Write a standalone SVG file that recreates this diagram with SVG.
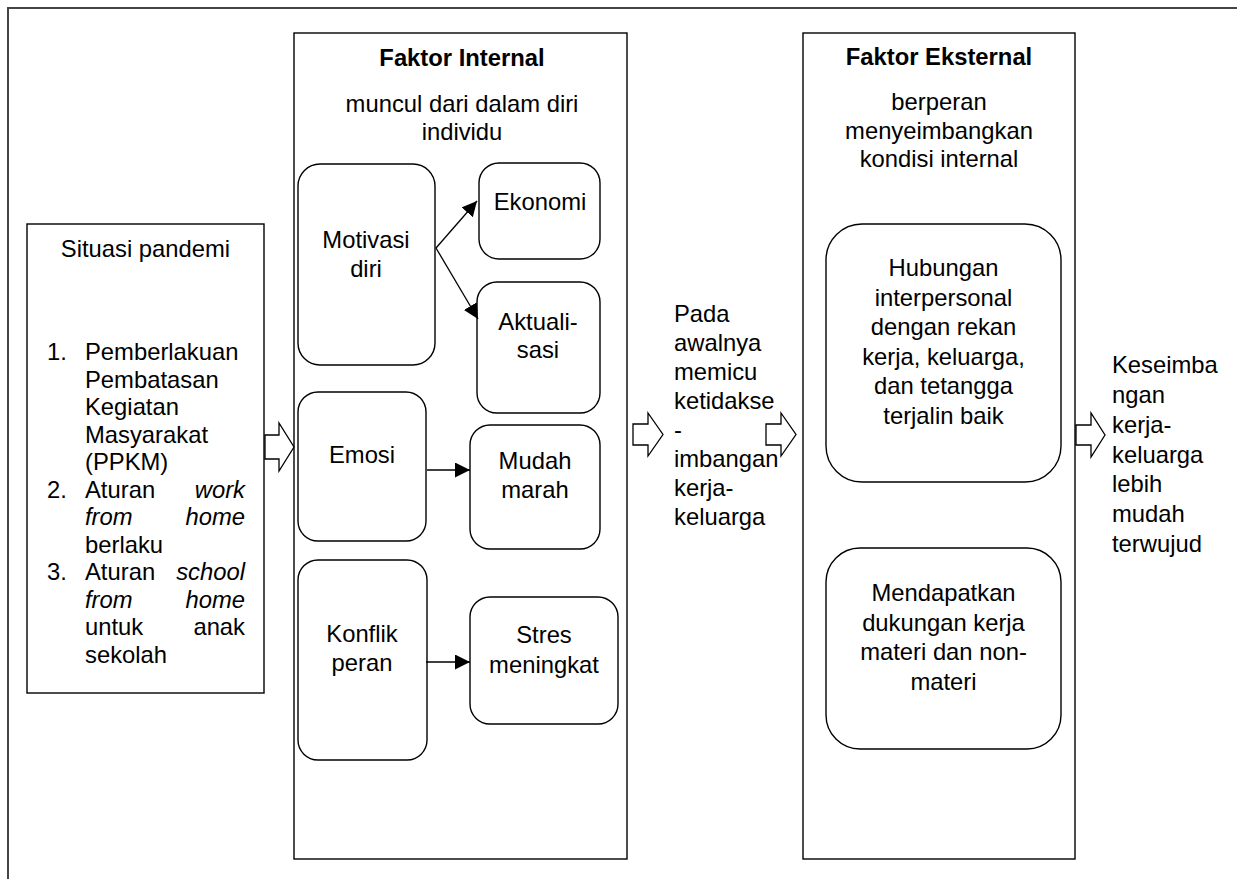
<svg xmlns="http://www.w3.org/2000/svg" width="1237" height="879" viewBox="0 0 1237 879">
<style>
text{font-family:"Liberation Sans",Arial,sans-serif;font-size:23.8px;fill:#000}
.c{text-anchor:middle}
.e{text-anchor:end}
.b{font-weight:bold}
.i{font-style:italic}
.box{fill:#fff;stroke:#000;stroke-width:1.4}
.frame{fill:none;stroke:#444;stroke-width:2}
.conn{stroke:#000;stroke-width:1.3;fill:none}
.blk{fill:#fff;stroke:#000;stroke-width:1.3;stroke-linejoin:miter}
</style>
<defs>
<marker id="ah" markerUnits="userSpaceOnUse" markerWidth="16" markerHeight="16" refX="15" refY="7.5" orient="auto">
<path d="M0,0 L15,7.5 L0,15 z" fill="#000"/>
</marker>
</defs>
<rect width="1237" height="879" fill="#fff"/>
<path class="frame" d="M8,879 L8,8 L1237,8"/>

<g id="situasi">
<rect class="box" x="27" y="224" width="237" height="469"/>
<text class="c" x="145.5" y="257">Situasi pandemi</text>
<text x="47" y="360">1.</text>
<text x="85" y="360">Pemberlakuan</text>
<text x="85" y="387.5">Pembatasan</text>
<text x="85" y="415">Kegiatan</text>
<text x="85" y="442.5">Masyarakat</text>
<text x="85" y="470">(PPKM)</text>
<text x="47" y="497.5">2.</text>
<text x="85" y="497.5">Aturan</text>
<text class="e i" x="245" y="497.5">work</text>
<text class="i" x="85" y="525">from</text>
<text class="e i" x="245" y="525">home</text>
<text x="85" y="552.5">berlaku</text>
<text x="47" y="580">3.</text>
<text x="85" y="580">Aturan</text>
<text class="e i" x="245" y="580">school</text>
<text class="i" x="85" y="607.5">from</text>
<text class="e i" x="245" y="607.5">home</text>
<text x="85" y="635">untuk</text>
<text class="e" x="245" y="635">anak</text>
<text x="85" y="662.5">sekolah</text>
</g>

<g id="internal">
<rect class="box" x="294" y="33" width="333" height="826"/>
<text class="c b" x="462" y="66">Faktor Internal</text>
<text class="c" x="462" y="112">muncul dari dalam diri</text>
<text class="c" x="462" y="140">individu</text>
</g>

<g id="motivasi">
<rect class="box" x="298" y="164" width="137" height="201" rx="22"/>
<text class="c" x="366" y="248">Motivasi</text>
<text class="c" x="366" y="277">diri</text>
</g>
<g id="ekonomi">
<rect class="box" x="479" y="163" width="121" height="96" rx="20"/>
<text class="c" x="540" y="210">Ekonomi</text>
</g>
<g id="aktualisasi">
<rect class="box" x="477" y="282" width="123" height="131" rx="20"/>
<text class="c" x="538" y="330">Aktuali-</text>
<text class="c" x="538" y="358">sasi</text>
</g>
<g id="emosi">
<rect class="box" x="298" y="392" width="128" height="149" rx="20"/>
<text class="c" x="362" y="463">Emosi</text>
</g>
<g id="mudah">
<rect class="box" x="470" y="425" width="130" height="124" rx="20"/>
<text class="c" x="535" y="469">Mudah</text>
<text class="c" x="535" y="498">marah</text>
</g>
<g id="konflik">
<rect class="box" x="298" y="560" width="129" height="200" rx="20"/>
<text class="c" x="362" y="642">Konflik</text>
<text class="c" x="362" y="671">peran</text>
</g>
<g id="stres">
<rect class="box" x="470" y="597" width="148" height="127" rx="20"/>
<text class="c" x="544" y="643">Stres</text>
<text class="c" x="544" y="673">meningkat</text>
</g>

<g id="pada">
<text x="674" y="322">Pada</text>
<text x="674" y="351">awalnya</text>
<text x="674" y="380">memicu</text>
<text x="674" y="409">ketidakse</text>
<text x="674" y="438">-</text>
<text x="674" y="467">imbangan</text>
<text x="674" y="496">kerja-</text>
<text x="674" y="525">keluarga</text>
</g>

<g id="eksternal">
<rect class="box" x="803" y="33" width="272" height="826"/>
<text class="c b" x="939" y="65">Faktor Eksternal</text>
<text class="c" x="939" y="110">berperan</text>
<text class="c" x="939" y="138.5">menyeimbangkan</text>
<text class="c" x="939" y="167">kondisi internal</text>
</g>
<g id="hubungan">
<rect class="box" x="826" y="224" width="235" height="258" rx="36"/>
<text class="c" x="943.5" y="276">Hubungan</text>
<text class="c" x="943.5" y="305.5">interpersonal</text>
<text class="c" x="943.5" y="335">dengan rekan</text>
<text class="c" x="943.5" y="364.5">kerja, keluarga,</text>
<text class="c" x="943.5" y="394">dan tetangga</text>
<text class="c" x="943.5" y="423.5">terjalin baik</text>
</g>
<g id="mendapatkan">
<rect class="box" x="826" y="548" width="235" height="201" rx="34"/>
<text class="c" x="943.5" y="601">Mendapatkan</text>
<text class="c" x="943.5" y="630.5">dukungan kerja</text>
<text class="c" x="943.5" y="660">materi dan non-</text>
<text class="c" x="943.5" y="689.5">materi</text>
</g>

<g id="keseimbangan">
<text x="1112" y="373">Keseimba</text>
<text x="1112" y="403">ngan</text>
<text x="1112" y="433">kerja-</text>
<text x="1112" y="462.5">keluarga</text>
<text x="1112" y="492">lebih</text>
<text x="1112" y="522">mudah</text>
<text x="1112" y="552">terwujud</text>
</g>

<g id="connectors">
<line class="conn" x1="436" y1="248" x2="477" y2="201" marker-end="url(#ah)"/>
<line class="conn" x1="436" y1="248" x2="478" y2="319" marker-end="url(#ah)"/>
<line class="conn" x1="427" y1="470" x2="470" y2="470" marker-end="url(#ah)"/>
<line class="conn" x1="426" y1="662" x2="470" y2="662" marker-end="url(#ah)"/>
<polygon class="blk" points="265,435 279,435 279,423 294,447 279,471 279,459 265,459"/>
<polygon class="blk" points="633,424 648,424 648,413 663,434.5 648,456 648,445 633,445"/>
<polygon class="blk" points="766,424 781,424 781,413 796,434.5 781,456 781,445 766,445"/>
<polygon class="blk" points="1076,425 1091,425 1091,413 1105,435 1091,457 1091,445 1076,445"/>
</g>
</svg>
